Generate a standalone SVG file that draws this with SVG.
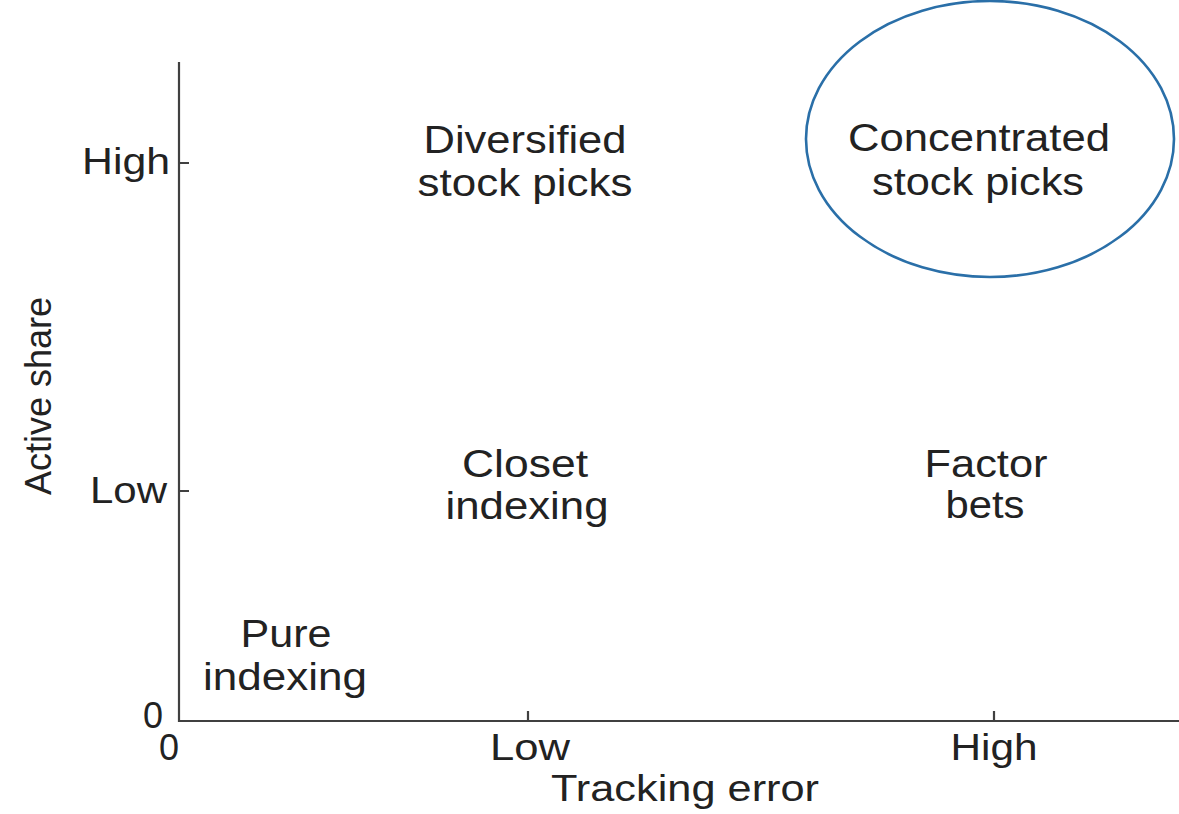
<svg xmlns="http://www.w3.org/2000/svg" width="1179" height="814" viewBox="0 0 1179 814">
  <style>
    .axis { stroke: #404040; stroke-width: 2.2; fill: none; }
    .lbl { font-family: "Liberation Sans", Arial, sans-serif; font-size: 38px; fill: #222; text-anchor: middle; }
    .tick { font-family: "Liberation Sans", Arial, sans-serif; font-size: 36px; fill: #222; }
    .oval { fill: none; stroke: #2a6fa8; stroke-width: 2.6; }
  </style>
  <rect width="1179" height="814" fill="#fff"/>

  <!-- axes and ticks -->
  <g id="axes">
    <path class="axis" d="M179,62 V721 H1179"/>
    <path class="axis" d="M179,163 H189 M179,491 H189 M528,721 V711 M994,721 V711"/>
    <text class="tick" x="170" y="174" text-anchor="end" textLength="88" lengthAdjust="spacingAndGlyphs">High</text>
    <text class="tick" x="167" y="503" text-anchor="end" textLength="77" lengthAdjust="spacingAndGlyphs">Low</text>
    <text class="tick" x="163" y="728" text-anchor="end">0</text>
    <text class="tick" x="169" y="760" text-anchor="middle">0</text>
    <text class="tick" x="530" y="760" text-anchor="middle" textLength="80" lengthAdjust="spacingAndGlyphs">Low</text>
    <text class="tick" x="994" y="760" text-anchor="middle" textLength="87" lengthAdjust="spacingAndGlyphs">High</text>
    <text class="tick" x="685" y="801" text-anchor="middle" textLength="268" lengthAdjust="spacingAndGlyphs">Tracking error</text>
    <text class="tick" transform="translate(51,396) rotate(-90)" text-anchor="middle" textLength="198" lengthAdjust="spacingAndGlyphs">Active share</text>
  </g>

  <g id="diversified">
    <text class="lbl" x="525" y="153" textLength="203" lengthAdjust="spacingAndGlyphs">Diversified</text>
    <text class="lbl" x="525" y="196" textLength="215" lengthAdjust="spacingAndGlyphs">stock picks</text>
  </g>

  <g id="concentrated">
    <ellipse class="oval" cx="990" cy="139" rx="184" ry="138"/>
    <text class="lbl" x="979" y="151" textLength="262" lengthAdjust="spacingAndGlyphs">Concentrated</text>
    <text class="lbl" x="978" y="195" textLength="212" lengthAdjust="spacingAndGlyphs">stock picks</text>
  </g>

  <g id="closet">
    <text class="lbl" x="525" y="477" textLength="126" lengthAdjust="spacingAndGlyphs">Closet</text>
    <text class="lbl" x="527" y="519" textLength="163" lengthAdjust="spacingAndGlyphs">indexing</text>
  </g>

  <g id="factor">
    <text class="lbl" x="986" y="477" textLength="123" lengthAdjust="spacingAndGlyphs">Factor</text>
    <text class="lbl" x="985" y="518" textLength="79" lengthAdjust="spacingAndGlyphs">bets</text>
  </g>

  <g id="pure">
    <text class="lbl" x="286" y="647" textLength="91" lengthAdjust="spacingAndGlyphs">Pure</text>
    <text class="lbl" x="285" y="690" textLength="164" lengthAdjust="spacingAndGlyphs">indexing</text>
  </g>
</svg>
